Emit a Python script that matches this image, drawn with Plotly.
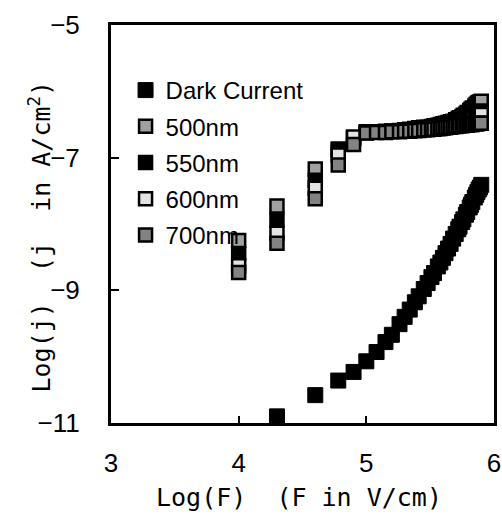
import plotly.graph_objects as go

# Log(F) values of the measurement points
log_f_dark = [4.30, 4.60, 4.78, 4.90, 5.00, 5.08, 5.15, 5.20, 5.26, 5.30,
              5.34, 5.38, 5.41, 5.45, 5.48, 5.51, 5.53, 5.56, 5.58, 5.60,
              5.62, 5.64, 5.66, 5.68, 5.70, 5.72, 5.73, 5.75, 5.76, 5.78,
              5.79, 5.81, 5.82, 5.83, 5.85, 5.86, 5.87, 5.88, 5.89, 5.90]
log_f_photo = [4.00] + log_f_dark

dark_current = [-10.90, -10.58, -10.36, -10.23, -10.07, -9.93, -9.78, -9.67, -9.51, -9.40,
                -9.29, -9.18, -9.09, -8.98, -8.89, -8.80, -8.74, -8.64, -8.58, -8.51,
                -8.44, -8.37, -8.30, -8.22, -8.15, -8.08, -8.04, -7.97, -7.93, -7.86,
                -7.82, -7.75, -7.71, -7.67, -7.60, -7.56, -7.52, -7.48, -7.45, -7.41]

nm500 = [-8.25, -7.73, -7.17, -6.87, -6.70, -6.62, -6.61, -6.60, -6.60, -6.59, -6.58,
         -6.57, -6.56, -6.55, -6.54, -6.54, -6.53, -6.52, -6.51, -6.50, -6.49,
         -6.48, -6.47, -6.46, -6.45, -6.43, -6.41, -6.40, -6.38, -6.36, -6.34,
         -6.32, -6.29, -6.27, -6.25, -6.22, -6.20, -6.18, -6.17, -6.16, -6.15]
nm550 = [-8.45, -7.94, -7.34, -6.89, -6.71, -6.62, -6.61, -6.61, -6.60, -6.60, -6.59,
         -6.58, -6.57, -6.57, -6.56, -6.55, -6.55, -6.54, -6.53, -6.52, -6.51,
         -6.50, -6.49, -6.48, -6.47, -6.46, -6.45, -6.44, -6.43, -6.42, -6.41,
         -6.40, -6.38, -6.37, -6.36, -6.34, -6.33, -6.32, -6.31, -6.30, -6.30]
nm600 = [-8.63, -8.14, -7.46, -6.96, -6.69, -6.61, -6.61, -6.61, -6.60, -6.60, -6.60,
         -6.59, -6.59, -6.58, -6.58, -6.57, -6.57, -6.56, -6.56, -6.55, -6.55,
         -6.54, -6.53, -6.52, -6.51, -6.50, -6.49, -6.48, -6.47, -6.46, -6.45,
         -6.44, -6.43, -6.42, -6.41, -6.40, -6.39, -6.38, -6.37, -6.36, -6.35]
nm700 = [-8.73, -8.29, -7.62, -7.11, -6.80, -6.63, -6.62, -6.62, -6.61, -6.61, -6.60,
         -6.60, -6.59, -6.59, -6.58, -6.58, -6.57, -6.57, -6.56, -6.56, -6.55,
         -6.55, -6.54, -6.54, -6.53, -6.53, -6.52, -6.52, -6.52, -6.51, -6.51,
         -6.51, -6.50, -6.50, -6.50, -6.49, -6.49, -6.49, -6.48, -6.48, -6.48]

x_ticks = [3, 4, 5, 6]
y_ticks = [-11, -9, -7, -5]

series = [
    ("Dark Current", log_f_dark, dark_current, "black", 15, 1),
    ("500nm", log_f_photo, nm500, "#a0a0a0", 13, 2.5),
    ("550nm", log_f_photo, nm550, "black", 13, 2.5),
    ("600nm", log_f_photo, nm600, "#e4e4e4", 13, 2.5),
    ("700nm", log_f_photo, nm700, "#838383", 13, 2.5),
]

fig = go.Figure()
for i, (name, xs, ys, col, sz, lw) in enumerate(series):
    fig.add_trace(go.Scatter(
        x=xs, y=ys, mode="markers", name=name, legendgroup=f"g{i}",
        marker=dict(symbol="square", size=sz, color=col,
                    line=dict(color="black", width=lw)),
    ))

axis_common = dict(showgrid=False, zeroline=False, showline=True, linecolor="black",
                   linewidth=3, mirror=True, ticks="inside", tickwidth=2,
                   tickcolor="black", automargin=False,
                   tickfont=dict(family="Liberation Sans, Arial", size=26, color="black"))

fig.update_xaxes(range=[3, 6], tickvals=x_ticks, ticklen=7, ticklabelstandoff=15,
                 **axis_common)
fig.update_yaxes(range=[-11, -5], tickvals=y_ticks, ticklen=8, ticklabelstandoff=23,
                 **axis_common)

fig.update_layout(
    width=502, height=518,
    margin=dict(l=111, r=8, t=25, b=95),
    paper_bgcolor="white", plot_bgcolor="white",
    showlegend=True,
    legend=dict(x=0.038, y=0.892, xanchor="left", yanchor="top",
                bgcolor="rgba(0,0,0,0)", tracegroupgap=2,
                font=dict(family="Liberation Sans, Arial", size=24, color="black")),
    annotations=[
        dict(text="Log(F)  (F in V/cm)", xref="paper", yref="paper",
             x=0.49, y=-0.186, xanchor="center", yanchor="middle", showarrow=False,
             font=dict(family="DejaVu Sans Mono", size=25, color="black")),
        dict(text="Log(j)  (j  in A/cm<sup>2</sup>)", xref="paper", yref="paper",
             x=-0.185, y=0.469, xanchor="center", yanchor="middle", showarrow=False,
             textangle=-90,
             font=dict(family="DejaVu Sans Mono", size=25, color="black")),
    ],
)

fig.write_html("out.html",
               config={"displayModeBar": False},
               post_script="document.body.style.margin='0px';"
                           "document.body.style.overflow='hidden';")
